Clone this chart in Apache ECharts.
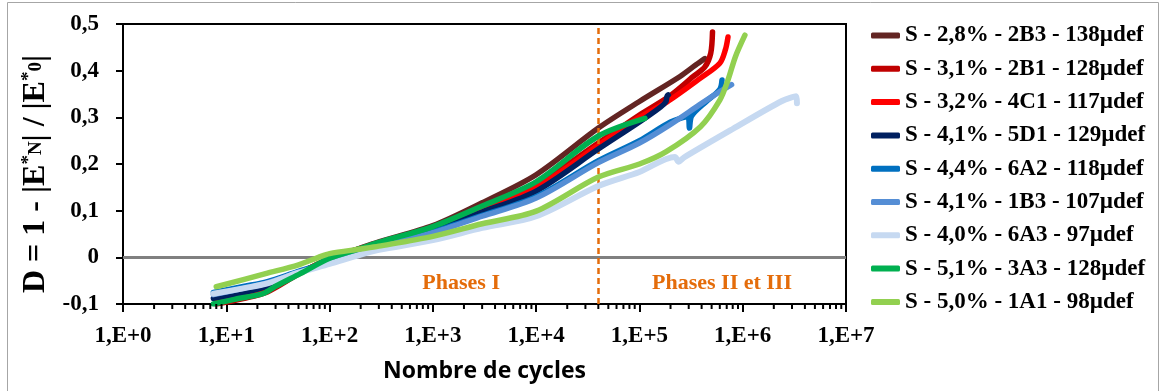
<!DOCTYPE html>
<html><head><meta charset="utf-8">
<script src="https://cdn.jsdelivr.net/npm/echarts@6/dist/echarts.min.js"></script>
<style>html,body{margin:0;padding:0;background:#fff}#c{width:1163px;height:391px}</style>
</head><body><div id="c"></div>
<script>
// ---- data (N cycles, D) ----
const seriesNames = [
  'S - 2,8% - 2B3 - 138µdef',
  'S - 3,1% - 2B1 - 128µdef',
  'S - 3,2% - 4C1 - 117µdef',
  'S - 4,1% - 5D1 - 129µdef',
  'S - 4,4% - 6A2 - 118µdef',
  'S - 4,1% - 1B3 - 107µdef',
  'S - 4,0% - 6A3 - 97µdef',
  'S - 5,1% - 3A3 - 128µdef',
  'S - 5,0% - 1A1 - 98µdef'
];
const seriesColors = ['#632523','#C00000','#FF0000','#002060','#0070C0','#558ED5','#C6D9F1','#00B050','#92D050'];

const s2B3 = [[8,-0.098],[15,-0.085],[25,-0.072],[50,-0.035],[100,-0.003],[200,0.020],[300,0.033],[1000,0.068],[3000,0.117],[10000,0.177],[40000,0.277],[100000,0.334],[245000,0.387],[350000,0.412],[430000,0.426]];
const s2B1 = [[8,-0.100],[15,-0.088],[25,-0.074],[50,-0.036],[100,-0.004],[200,0.019],[300,0.031],[1000,0.064],[3000,0.105],[10000,0.155],[40000,0.245],[100000,0.305],[200000,0.347],[330000,0.387],[430000,0.408],[490000,0.437],[510000,0.483]];
const s4C1 = [[8,-0.095],[15,-0.085],[25,-0.070],[50,-0.035],[100,-0.003],[200,0.019],[300,0.031],[1000,0.063],[3000,0.103],[10000,0.150],[40000,0.240],[100000,0.300],[185000,0.333],[390000,0.384],[600000,0.416],[680000,0.445],[720000,0.472]];
const s5D1 = [[7.5,-0.088],[15,-0.075],[25,-0.062],[50,-0.033],[100,-0.008],[200,0.016],[300,0.028],[1000,0.058],[3000,0.097],[10000,0.142],[40000,0.232],[100000,0.290],[160000,0.322],[180000,0.333],[185000,0.345],[190000,0.348]];
const s6A2 = [[7.5,-0.075],[15,-0.062],[25,-0.052],[50,-0.030],[100,-0.010],[200,0.012],[300,0.025],[1000,0.055],[3000,0.090],[10000,0.130],[40000,0.207],[100000,0.250],[200000,0.290],[295000,0.302],[305000,0.277],[320000,0.303],[450000,0.335],[600000,0.360],[630000,0.380]];
const s1B3 = [[7.5,-0.080],[15,-0.066],[25,-0.055],[50,-0.032],[100,-0.012],[200,0.010],[300,0.023],[1000,0.053],[3000,0.088],[10000,0.127],[40000,0.203],[100000,0.245],[200000,0.285],[400000,0.330],[600000,0.355],[780000,0.370]];
const s6A3 = [[7.5,-0.078],[15,-0.066],[25,-0.056],[50,-0.033],[100,-0.014],[200,0.006],[300,0.016],[1000,0.037],[3000,0.063],[10000,0.088],[40000,0.153],[100000,0.183],[220000,0.215],[240000,0.205],[270000,0.214],[800000,0.275],[2400000,0.335],[3300000,0.345],[3350000,0.330]];
const s3A3 = [[7.5,-0.100],[12,-0.090],[23,-0.077],[30,-0.062],[52,-0.035],[100,-0.002],[200,0.019],[300,0.032],[1000,0.066],[3000,0.110],[10000,0.162],[40000,0.260],[113000,0.298]];
const s1A1 = [[8,-0.063],[25,-0.034],[50,-0.016],[78,0.000],[100,0.008],[200,0.018],[300,0.024],[1000,0.045],[3000,0.072],[10000,0.099],[40000,0.172],[100000,0.200],[180000,0.226],[390000,0.280],[600000,0.337],[720000,0.380],[850000,0.430],[1050000,0.476]];
const seriesData = [s2B3, s2B1, s4C1, s5D1, s6A2, s1B3, s6A3, s3A3, s1A1];

const xTickLabels = ['1,E+0','1,E+1','1,E+2','1,E+3','1,E+4','1,E+5','1,E+6','1,E+7'];
const yTickLabels = ['-0,1','0','0,1','0,2','0,3','0,4','0,5'];
const Y_MIN = -0.1, Y_MAX = 0.5, Y_STEP = 0.1;
const X_MIN = 1, X_MAX = 1e7;
const PHASE_BOUNDARY = 40000;
const phaseLabels = [{text:'Phases I', at:[1880,-0.055]}, {text:'Phases II et III', at:[630000,-0.055]}];

// minor tick positions of the log axis (2..9 × 10^k)
const minorTicks = [];
for (let k = 0; k < 7; k++) for (let m = 2; m <= 9; m++) minorTicks.push([m * Math.pow(10, k), Y_MIN]);

const serif = "'Liberation Serif','Times New Roman',serif";
const chart = echarts.init(document.getElementById('c'), null, {renderer:'canvas'});

const lineSeries = seriesNames.map((name, i) => {
  const s = {
    name, type:'line', data: seriesData[i], symbol:'none', smooth:0.3,
    lineStyle:{color:seriesColors[i], width: i===6 ? 6 : 5.5, cap:'round', join:'round'},
    itemStyle:{color:seriesColors[i]}, z: 2 + i, animation:false
  };
  if (i === 0) {
    s.markLine = {silent:true, symbol:'none', label:{show:false}, animation:false,
      data:[{yAxis:0, lineStyle:{color:'#808080', width:3, type:'solid'}}]};
  }
  if (i === seriesNames.length - 1) {
    s.markLine = {silent:true, symbol:'none', label:{show:false}, animation:false,
      data:[{xAxis:PHASE_BOUNDARY, lineStyle:{color:'#E46C0A', width:2.5, type:[6,4]}}]};
    s.markPoint = {silent:true, animation:false, symbol:'rect', symbolSize:1,
      itemStyle:{color:'rgba(0,0,0,0)'},
      label:{show:true, position:'inside', color:'#E46C0A', fontFamily:serif, fontWeight:'bold', fontSize:22},
      data: phaseLabels.map(p => ({coord:p.at, value:p.text, label:{formatter:p.text}}))};
  }
  return s;
});

const option = {
  backgroundColor:'#fff',
  animation:false,
  graphic:[{type:'rect', shape:{x:7.5, y:2.5, width:1151, height:400}, style:{fill:'none', stroke:'#a6a6a6', lineWidth:1}, silent:true}],
  grid:{left:123, right:317, top:24, bottom:87, show:true, borderColor:'#000', borderWidth:2, backgroundColor:'transparent'},
  legend:{
    orient:'vertical', left:866, top:19, itemWidth:29, itemHeight:6, itemGap:10.3, icon:'roundRect',
    data: seriesNames,
    textStyle:{fontFamily:serif, fontWeight:'bold', fontSize:23, color:'#000', lineHeight:23}
  },
  xAxis:{
    type:'log', logBase:10, min:X_MIN, max:X_MAX,
    name:'Nombre de cycles', nameLocation:'middle', nameGap:56,
    nameTextStyle:{fontFamily:"'Open Sans',sans-serif", fontWeight:'bold', fontSize:23, color:'#000'},
    axisLine:{show:true, onZero:false, lineStyle:{color:'#000', width:2}},
    axisTick:{show:true, length:8, lineStyle:{color:'#000', width:2}},
    axisLabel:{margin:21, fontFamily:serif, fontWeight:'bold', fontSize:23, color:'#000',
      formatter: v => xTickLabels[Math.round(Math.log10(v))]},
    splitLine:{show:false}, minorTick:{show:false}
  },
  yAxis:{
    type:'value', min:Y_MIN, max:Y_MAX, interval:Y_STEP,
    name:'D = 1 - |E{sup|*}{sub|N}| / |E{sup|*}{sub|0}|', nameLocation:'middle', nameGap:70, nameRotate:90,
    nameTextStyle:{fontFamily:serif, fontWeight:'bold', fontSize:32, color:'#000', padding:[0,20,0,0],
      rich:{
        sup:{fontFamily:serif, fontWeight:'bold', fontSize:19, color:'#000', verticalAlign:'top', lineHeight:32},
        sub:{fontFamily:serif, fontWeight:'bold', fontSize:19, color:'#000', verticalAlign:'middle', lineHeight:32}
      }},
    axisLine:{show:true, onZero:false, lineStyle:{color:'#000', width:2}},
    axisTick:{show:true, length:7, lineStyle:{color:'#000', width:2}},
    axisLabel:{margin:24, fontFamily:serif, fontWeight:'bold', fontSize:23, color:'#000',
      formatter: v => yTickLabels[Math.round((v - Y_MIN) / Y_STEP)]},
    splitLine:{show:false}
  },
  series:[
    ...lineSeries,
    {type:'custom', name:'minorTicks', data:minorTicks, silent:true, clip:false, z:20,
      encode:{x:0, y:1},
      renderItem:(params, api) => {
        const p = api.coord([api.value(0), api.value(1)]);
        return {type:'line', shape:{x1:p[0], y1:p[1], x2:p[0], y2:p[1]+5}, style:{stroke:'#000', lineWidth:2}};
      }}
  ]
};
chart.setOption(option);
</script></body></html>
